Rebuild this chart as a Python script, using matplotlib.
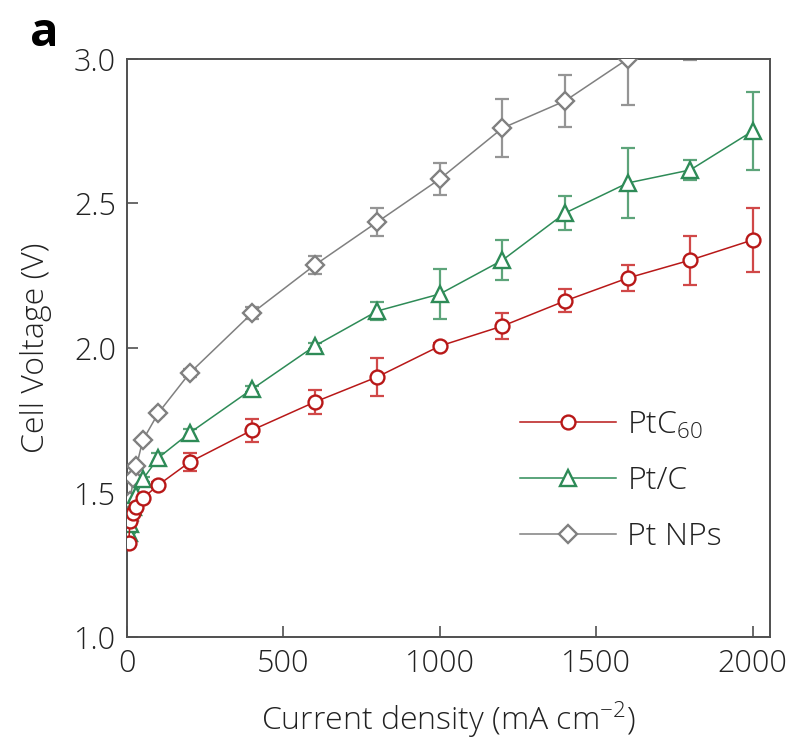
import numpy as np
import matplotlib
matplotlib.use("Agg")
import matplotlib.pyplot as plt

plt.rcParams['font.family'] = ['Open Sans', 'DejaVu Sans']
plt.rcParams['font.weight'] = 'light'
plt.rcParams['axes.labelweight'] = 'light'
plt.rcParams['mathtext.fontset'] = 'custom'
plt.rcParams['mathtext.rm'] = 'Open Sans:light'

# current density (mA cm-2)
j_low = [5, 10, 20, 30, 50, 100, 200, 400, 600, 800, 1000, 1200, 1400, 1600, 1800, 2000]
j_np = [5, 10, 20, 30, 50, 100, 200, 400, 600, 800, 1000, 1200, 1400, 1600, 1800]

# PtC60
v_c60 = [1.325, 1.40, 1.43, 1.45, 1.48, 1.526, 1.605, 1.716, 1.813, 1.90, 2.007, 2.076, 2.163, 2.242, 2.304, 2.374]
e_c60 = [0.0, 0.0, 0.0, 0.0, 0.0, 0.01, 0.03, 0.04, 0.04, 0.065, 0.01, 0.045, 0.04, 0.045, 0.085, 0.11]

# Pt/C
v_ptc = [1.36, 1.39, 1.45, 1.49, 1.545, 1.62, 1.706, 1.858, 2.007, 2.128, 2.187, 2.304, 2.467, 2.571, 2.616, 2.751]
e_ptc = [0.0, 0.0, 0.0, 0.0, 0.01, 0.015, 0.015, 0.01, 0.01, 0.03, 0.085, 0.07, 0.06, 0.12, 0.035, 0.135]

# Pt NPs
v_np = [1.40, 1.47, 1.55, 1.59, 1.68, 1.775, 1.913, 2.121, 2.287, 2.436, 2.585, 2.761, 2.855, 3.0, 3.08]
e_np = [0.0, 0.0, 0.0, 0.0, 0.01, 0.01, 0.015, 0.02, 0.03, 0.05, 0.055, 0.1, 0.09, 0.16, 0.085]

fig = plt.figure(figsize=(7.9, 7.42), dpi=100)
ax = fig.add_axes([0.1608, 0.1415, 0.8139, 0.779])

series = [
    (j_np, v_np, e_np, '#808080', '#959595', 'D', 9, 'Pt NPs'),
    (j_low, v_ptc, e_ptc, '#2E8B57', '#5DA47A', '^', 11, 'Pt/C'),
    (j_low, v_c60, e_c60, '#B81818', '#D04848', 'o', 10, 'PtC$_{60}$'),
]
handles = {}
for x, y, e, c, ec, m, ms, lab in series:
    ax.errorbar(x, y, yerr=e, fmt='none', ecolor=ec, elinewidth=1.6,
                capsize=5, capthick=1.6, zorder=2)
    h, = ax.plot(x, y, color=c, lw=1.1, marker=m, ms=ms, mfc='white',
                 mec=c, mew=1.7, zorder=3, label=lab)
    handles[lab] = h

ax.set_xlim(0, 2055)
ax.set_ylim(1.0, 3.0)
ax.set_xticks([0, 500, 1000, 1500, 2000])
ax.set_yticks([1.0, 1.5, 2.0, 2.5, 3.0])
ax.set_yticklabels(['1.0', '1.5', '2.0', '2.5', '3.0'])
ax.tick_params(direction='in', length=8, width=1.2, color='#505050',
               labelsize=22, labelcolor='#222222', pad=8)
for s in ax.spines.values():
    s.set_color('#505050')
    s.set_linewidth(1.4)

ax.set_xlabel('Current density (mA cm$^{-2}$)', fontsize=23, color='#222222', labelpad=14)
ax.set_ylabel('Cell Voltage (V)', fontsize=23, color='#222222', labelpad=16)

order = ['PtC$_{60}$', 'Pt/C', 'Pt NPs']
leg = ax.legend([handles[k] for k in order], order, loc='lower right',
                bbox_to_anchor=(0.97, 0.095), frameon=False, fontsize=23,
                handlelength=3.0, handletextpad=0.35, labelspacing=0.75)
for t in leg.get_texts():
    t.set_color('#222222')

fig.text(0.038, 0.955, 'a', fontsize=34, fontweight='bold', va='center')

fig.savefig('out.png', dpi=100)
